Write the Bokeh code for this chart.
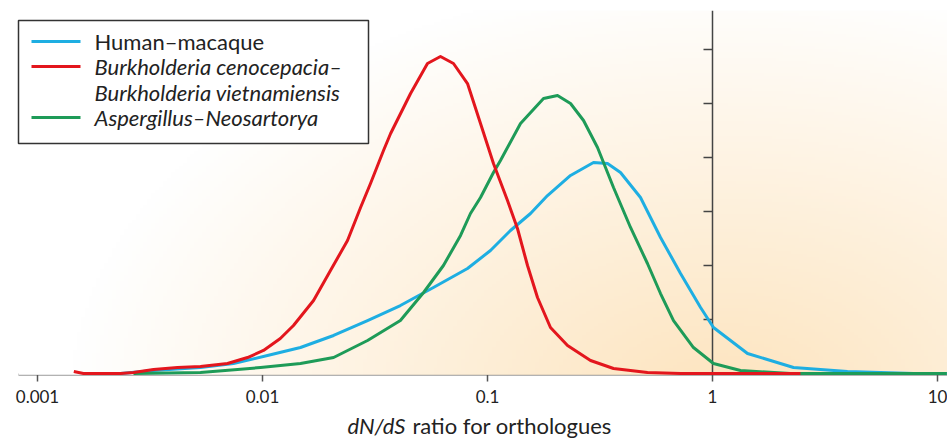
import numpy as np
from bokeh.plotting import figure
from bokeh.models import Range1d, FixedTicker, Label, BoxAnnotation, LogAxis
from bokeh.embed import file_html
from bokeh.resources import INLINE

# ---------------- data ----------------
human_x = [0.00234, 0.00328, 0.0053, 0.00743, 0.01052, 0.01475, 0.0207, 0.0293, 0.041, 0.0575,
           0.0815, 0.1031, 0.1265, 0.1553, 0.1848, 0.2339, 0.2959, 0.3415, 0.39, 0.4786,
           0.5875, 0.721, 0.885, 1.01, 1.431, 2.291, 3.98, 7.82, 11.0]
human_y = [0, 0.056, 0.111, 0.185, 0.333, 0.481, 0.704, 0.981, 1.259, 1.593,
           1.944, 2.278, 2.648, 2.963, 3.296, 3.667, 3.907, 3.889, 3.722, 3.259,
           2.519, 1.852, 1.222, 0.852, 0.370, 0.111, 0.037, 0.0, 0.0]

burk_x = [0.00145, 0.0016, 0.00234, 0.00267, 0.00328, 0.00419, 0.0053, 0.00699, 0.00858, 0.0101,
          0.012, 0.01373, 0.01686, 0.02005, 0.02387, 0.02728, 0.0302, 0.0345, 0.0371, 0.0455,
          0.0541, 0.0618, 0.0706, 0.0815, 0.0931, 0.1063, 0.1227, 0.1359, 0.1506, 0.1668,
          0.1905, 0.2268, 0.287, 0.3631, 0.514, 0.721, 1.0, 2.46]
burk_y = [0.037, 0, 0, 0.019, 0.074, 0.111, 0.130, 0.185, 0.296, 0.426,
          0.648, 0.889, 1.352, 1.907, 2.463, 3.074, 3.519, 4.130, 4.444, 5.185,
          5.741, 5.870, 5.741, 5.370, 4.630, 3.889, 3.204, 2.685, 2.0, 1.407,
          0.852, 0.519, 0.241, 0.093, 0.019, 0, 0, 0]

asp_x = [0.00267, 0.0053, 0.0098, 0.01475, 0.0207, 0.0293, 0.041, 0.052, 0.0637, 0.0759,
         0.084, 0.0931, 0.1063, 0.1142, 0.1402, 0.1774, 0.2047, 0.2339, 0.2672, 0.3083,
         0.3631, 0.4322, 0.514, 0.5875, 0.671, 0.823, 1.01, 1.332, 2.222, 11.0]
asp_y = [0, 0.019, 0.111, 0.185, 0.296, 0.611, 0.981, 1.5, 2.0, 2.556,
         2.963, 3.259, 3.722, 3.944, 4.630, 5.093, 5.148, 5.0, 4.685, 4.185,
         3.444, 2.704, 2.037, 1.481, 0.981, 0.481, 0.185, 0.056, 0, 0]

x_ticks = [0.001, 0.01, 0.1, 1, 10]
x_tick_labels = ["0.001", "0.01", "0.1", "1", "10"]
y_ticks = [1, 2, 3, 4, 5, 6]

series_labels = ["Human\u2013macaque",
                 "Burkholderia cenocepacia\u2013",
                 "Burkholderia vietnamiensis",
                 "Aspergillus\u2013Neosartorya"]
axis_label_italic = "dN/dS"
axis_label_rest = "ratio for orthologues"

BLUE = "#1eaee2"
RED = "#e3161d"
GREEN = "#1e9b58"
FONT = "Lato"

# ---------------- layout (page pixels) ----------------
W, H = 947, 438
AXIS_L, FRAME_T = 18, 10            # axis line starts at x=18; frame spans to the edges
BASE = 373                          # page y of the x-axis line (y = 0)
PX_PER_DEC = 225.0
PX_PER_UNIT = 54.0
x_start = 10 ** (-3 + (0 - 37) / PX_PER_DEC)
x_axis_begin = 10 ** (-3 + (AXIS_L - 37) / PX_PER_DEC)
x_end = 10 ** (-3 + (W - 37) / PX_PER_DEC)
y_end = (BASE - FRAME_T) / PX_PER_UNIT
y_start = -(H - BASE) / PX_PER_UNIT
axis_y = -0.025

p = figure(width=W, height=H, x_axis_type="log", x_axis_location=None, y_axis_location=None,
           x_range=Range1d(x_start, x_end), y_range=Range1d(y_start, y_end),
           output_backend="svg", toolbar_location=None,
           min_border_left=0, min_border_right=0, min_border_top=FRAME_T, min_border_bottom=0)
p.outline_line_color = None
p.grid.visible = False
p.background_fill_color = "white"
p.border_fill_color = "white"

# background radial gradient over the plotting area above the axis
FW, FH = W - AXIS_L, BASE - FRAME_T
nx, ny = 237, 121
sx = AXIS_L + (np.arange(nx) + 0.5) * FW / nx
sy = BASE - (np.arange(ny) + 0.5) * FH / ny
SX, SY = np.meshgrid(sx, sy)
t = np.sqrt(((SX - 720) / 650.0) ** 2 + ((SY - 400) / 420.0) ** 2)
t = np.clip(t, 0, 1)
core = np.array([253, 228, 190])
img = np.empty((ny, nx), dtype=np.uint32)
view = img.view(dtype=np.uint8).reshape((ny, nx, 4))
for k in range(3):
    view[:, :, k] = (core[k] * (1 - t) + 255 * t).astype(np.uint8)
view[:, :, 3] = 255
p.image_rgba(image=[img], x=x_axis_begin, y=axis_y, dw=x_end - x_axis_begin, dh=y_end - axis_y)

# vertical axis at x = 1 with ticks pointing left
p.segment(x0=[1], x1=[1], y0=[axis_y], y1=[y_end], line_color="#444444", line_width=1.5)
tick_left = 10 ** (-9 / PX_PER_DEC)
p.segment(x0=[tick_left] * len(y_ticks), x1=[1] * len(y_ticks), y0=y_ticks, y1=y_ticks,
          line_color="#444444", line_width=1.5)

# x axis drawn at y = 0
ax = LogAxis(fixed_location=axis_y, level="underlay", bounds=(x_axis_begin, x_end))
ax.ticker = FixedTicker(ticks=x_ticks)
ax.major_label_overrides = {v: s for v, s in zip(x_ticks, x_tick_labels)}
ax.axis_line_color = "#666666"
ax.axis_line_width = 2
ax.major_tick_line_color = "#555555"
ax.major_tick_line_width = 1.5
ax.major_tick_out = 7
ax.major_tick_in = 0
ax.minor_tick_line_color = None
ax.major_label_text_font = FONT
ax.major_label_text_font_size = "17px"
ax.major_label_text_color = "#222222"
ax.major_label_standoff = 8
p.add_layout(ax, "below")

# curves
for xs, ys, c in [(human_x, human_y, BLUE), (asp_x, asp_y, GREEN), (burk_x, burk_y, RED)]:
    p.line(xs, ys, line_color=c, line_width=3, line_join="round")

# annotation positions given in page pixels -> frame-relative screen units
def fx(x):
    return x

def fy(y):
    return H - y

p.add_layout(Label(x=fx(405), y=fy(425), x_units="screen", y_units="screen",
                   text=axis_label_italic, text_font=FONT, text_font_style="italic",
                   text_font_size="22px", text_color="#222222",
                   text_align="right", text_baseline="middle"))
p.add_layout(Label(x=fx(412), y=fy(425), x_units="screen", y_units="screen",
                   text=axis_label_rest, text_font=FONT, text_font_size="22px",
                   text_color="#222222", text_align="left", text_baseline="middle"))

# legend
p.add_layout(BoxAnnotation(left=fx(18), right=fx(368), top=fy(20), bottom=fy(143),
                           left_units="screen", right_units="screen",
                           top_units="screen", bottom_units="screen",
                           fill_color="white", fill_alpha=1.0,
                           line_color="#333333", line_width=1.5, line_alpha=1.0))
rows = [41, 66, 92, 117]
styles = ["normal", "italic", "italic", "italic"]
for r, s, txt in zip(rows, styles, series_labels):
    p.add_layout(Label(x=fx(94), y=fy(r), x_units="screen", y_units="screen",
                       text=txt, text_font=FONT, text_font_style=s,
                       text_font_size="22px", text_color="#222222",
                       text_align="left", text_baseline="middle"))
for r, c in zip([41, 66, 117], [BLUE, RED, GREEN]):
    p.add_layout(BoxAnnotation(left=fx(31), right=fx(80), top=fy(r - 1.5), bottom=fy(r + 1.5),
                               left_units="screen", right_units="screen",
                               top_units="screen", bottom_units="screen",
                               fill_color=c, fill_alpha=1.0, line_color=None))

open("out.html", "w").write(file_html(p, INLINE))
